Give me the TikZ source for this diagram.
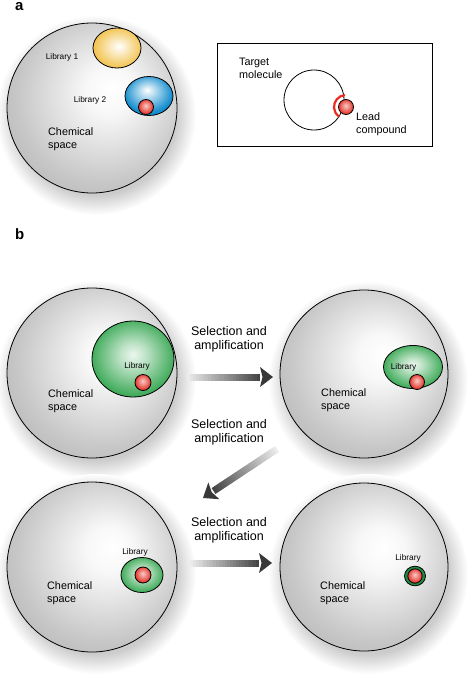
\documentclass[tikz,border=0pt]{standalone}
\usepackage{fontspec}
\setmainfont{Liberation Sans}
\usetikzlibrary{arrows.meta,calc}

% colours
\definecolor{libgreen}{RGB}{66,172,92}
\definecolor{ringgreen}{RGB}{30,140,70}
\definecolor{libyellow}{RGB}{242,196,82}
\definecolor{libblue}{RGB}{22,142,206}
\definecolor{leadred}{RGB}{228,52,40}
\definecolor{arcred}{RGB}{236,42,32}

% shadings
\pgfdeclareradialshading{sphere}{\pgfpoint{6bp}{6bp}}{color(0bp)=(white); color(7bp)=(black!3); color(25bp)=(black!22); color(34bp)=(black!29); color(50bp)=(black!29)}
\pgfdeclareradialshading{softshadow}{\pgfpointorigin}{color(0bp)=(black!24); color(20bp)=(black!20); color(25bp)=(white); color(50bp)=(white)}
\pgfdeclareradialshading{greenlib}{\pgfpoint{0bp}{3bp}}{color(0bp)=(libgreen!10); color(8bp)=(libgreen!35); color(25bp)=(libgreen); color(50bp)=(libgreen)}
\pgfdeclareradialshading{greenring}{\pgfpointorigin}{color(0bp)=(ringgreen); color(50bp)=(ringgreen)}
\pgfdeclareradialshading{yellowlib}{\pgfpoint{2bp}{2bp}}{color(0bp)=(white); color(25bp)=(libyellow); color(50bp)=(libyellow)}
\pgfdeclareradialshading{bluelib}{\pgfpoint{-2bp}{8bp}}{color(0bp)=(white); color(25bp)=(libblue); color(50bp)=(libblue)}
\pgfdeclareradialshading{redball}{\pgfpoint{-1bp}{5bp}}{color(0bp)=(leadred!25); color(25bp)=(leadred); color(50bp)=(leadred)}

% shaded arrow: #1 start, #2 tip
\newcommand{\shadearrow}[2]{%
  \coordinate (hb) at ($(#2)!13pt!(#1)$);
  \foreach \i in {0,...,23} {
    \pgfmathsetmacro{\tone}{8+2.8*\i}
    \draw[line width=7pt, black!\tone]
      ($(#1)!\i/24!(hb)$) -- ($(#1)!\i/24+1/24+0.005!(hb)$);
  }
  \fill[black!78] (#2) -- ($(hb)!10pt!90:(#2)$) -- ($(hb)!2.5pt!(#2)$)
    -- ($(hb)!10pt!-90:(#2)$) -- cycle;
}

\begin{document}
\begin{tikzpicture}[x=1pt,y=-1pt,
    outline/.style={draw=black, line width=0.8pt},
    panellbl/.style={font=\fontsize{15}{15}\selectfont\bfseries, anchor=base west, inner sep=0pt},
    liblbl/.style={font=\fontsize{8.3}{9}\selectfont, inner sep=0pt},
    spacelbl/.style={font=\fontsize{10.8}{13}\selectfont, align=left, anchor=west, inner sep=0pt},
    steplbl/.style={font=\fontsize{12.5}{14.3}\selectfont, align=center, inner sep=0pt}]

  \useasboundingbox (0,0) rectangle (470,685);

  % soft shadows below the spaces
  \foreach \cx/\cy in {92/108, 92/373, 364/374, 92/567, 364/567}
    \shade[shading=softshadow] (\cx+4,\cy+7) circle (100pt);

  % ---------- panel a ----------
  \node[panellbl] (pa) at (15,11) {a};
  \shade[shading=sphere, outline] (92,108) circle (85pt);
  \shade[shading=yellowlib, outline] (117,48) ellipse (24pt and 20pt);
  \shade[shading=bluelib, outline] (149,96) ellipse (24pt and 19.5pt);
  \shade[shading=redball, outline] (146,107) circle (7.5pt);
  \node[liblbl] (lib1) at (62,57) {Library 1};
  \node[liblbl] (lib2) at (90,100) {Library 2};
  \node[spacelbl] (spa) at (48,139.5) {Chemical\\space};

  \draw[line width=0.8pt] (217,43) rectangle (432,146);
  \draw[outline] (314,100) circle (30pt);
  \coordinate (lead) at (346,107);
  \draw[arcred, line width=2.2pt] ($(lead)+(95:12pt)$) arc[start angle=95, end angle=235, radius=12pt];
  \shade[shading=redball, outline] (lead) circle (7.5pt);
  \node[spacelbl] (tgt) at (239,68) {Target\\molecule};
  \node[spacelbl] (ldc) at (356,124) {Lead\\compound};

  % ---------- panel b ----------
  \node[panellbl] (pb) at (15,239) {b};

  % round 0
  \shade[shading=sphere, outline] (92,373) circle (85pt);
  \shade[shading=greenlib, outline] (133,359) ellipse (41pt and 38pt);
  \shade[shading=redball, outline] (143,382.5) circle (8pt);
  \node[liblbl] (libb1) at (137,366) {Library};
  \node[spacelbl] (spb1) at (48,401) {Chemical\\space};

  % round 1
  \shade[shading=sphere, outline] (364,374) circle (84pt);
  \shade[shading=greenlib, outline] (413,367) ellipse (29.5pt and 21.5pt);
  \shade[shading=redball, outline] (417,382) circle (7.5pt);
  \node[liblbl] (libb2) at (403.5,367) {Library};
  \node[spacelbl] (spb2) at (321,400.5) {Chemical\\space};

  % round 2
  \shade[shading=sphere, outline] (92,567) circle (85pt);
  \shade[shading=greenlib, outline] (142,575) ellipse (21pt and 17.5pt);
  \shade[shading=redball, outline] (143,575) circle (8pt);
  \node[liblbl] (libb3) at (135,552) {Library};
  \node[spacelbl] (spb3) at (47,593) {Chemical\\space};

  % round 3
  \shade[shading=sphere, outline] (364,567) circle (84pt);
  \shade[shading=greenring, outline] (415,576) ellipse (10.5pt and 9.8pt);
  \shade[shading=redball, outline] (415,576) circle (7.2pt);
  \node[liblbl] (libb4) at (408,558) {Library};
  \node[spacelbl] (spb4) at (320,593) {Chemical\\space};

  % selection steps
  \node[steplbl] (sel1) at (229,339) {Selection and\\amplification};
  \node[steplbl] (sel2) at (229,432) {Selection and\\amplification};
  \node[steplbl] (sel3) at (229,530.5) {Selection and\\amplification};

  \coordinate (s1) at (187,377);  \coordinate (t1) at (273,377);
  \coordinate (s2) at (277,449);  \coordinate (t2) at (203,498);
  \coordinate (s3) at (190,563);  \coordinate (t3) at (272,563);
  \shadearrow{s1}{t1}
  \shadearrow{s2}{t2}
  \shadearrow{s3}{t3}
\end{tikzpicture}
\end{document}
